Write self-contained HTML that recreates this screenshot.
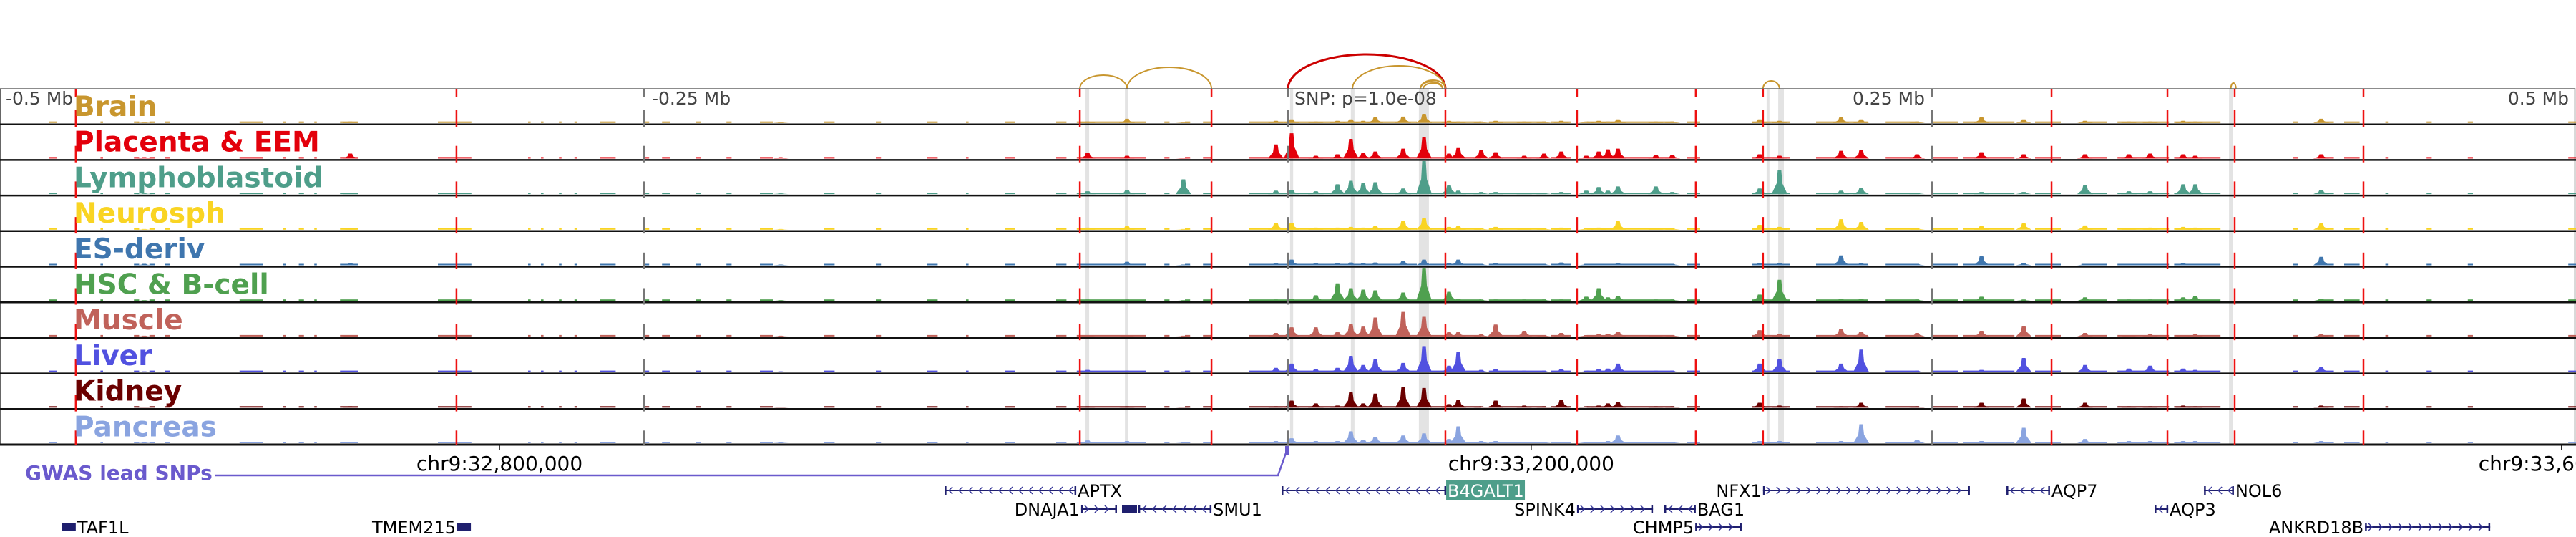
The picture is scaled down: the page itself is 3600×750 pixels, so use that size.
<!DOCTYPE html>
<html><head><meta charset="utf-8"><style>
html,body{margin:0;padding:0;background:#fff;}
svg{display:block;font-family:"DejaVu Sans","Liberation Sans",sans-serif;}
</style></head><body>
<svg id="chart" width="3600" height="750" viewBox="0 0 3600 750" xmlns="http://www.w3.org/2000/svg">
<g id="bands"></g>
<g id="arcs"></g>
<g id="tracks"></g>
<g id="vlines"></g>
<g id="labels"></g>
<g id="axis"></g>
<g id="genes"></g>
</svg>
<script>
// ---- data ----
const trackNames = ["Brain","Placenta & EEM","Lymphoblastoid","Neurosph","ES-deriv","HSC & B-cell","Muscle","Liver","Kidney","Pancreas"];
const trackColors = ["#c8962e","#e3000b","#4e9e8a","#f9d423","#3f76ae","#4fa04f","#c0625a","#5151e0","#6b0000","#8aa4e0"];
// peak positions in kb relative to lead SNP
const peakKb = [-444,-364,-197,-77.8,-62.5,-40.6,-4.7,1.4,10.8,19.2,24.4,29.2,33.9,44.7,52.8,62.5,66.1,75,80.6,91.7,99.4,106.1,115.8,120.6,124.2,128.1,142.8,149.2,183.1,190.8,214.7,222.5,244.2,269.2,285.6,309.4,326.4,334.7,347.5,352.2,401.1];
const brainVals     = [1,2,1,2,6,1,3,5,2,3,5,3,8,9,13,3,2,2,3,2,2,3,2,3,2,5,2,2,5,3,8,5,2,8,5,3,2,2,3,2,6];
const placentaVals  = [2,7,2,8,4,1,20,36,4,6,28,8,10,14,30,7,15,12,9,4,7,10,4,10,13,14,5,5,6,4,11,12,6,9,6,6,6,7,6,4,6];
const lymphVals     = [1,1,1,4,6,21,5,6,4,14,19,16,17,8,47,13,5,3,3,2,2,3,5,10,5,11,11,3,8,34,5,9,2,3,3,13,4,4,14,14,6];
const neuroVals     = [1,1,1,3,5,1,10,10,3,3,4,3,5,13,17,4,5,2,4,2,2,3,2,3,2,12,2,2,7,4,15,11,2,5,9,6,2,3,4,3,9];
const esVals        = [2,3,1,2,5,1,3,8,3,3,4,3,4,6,8,3,8,2,3,2,2,4,2,2,2,3,2,2,3,3,14,3,2,13,3,2,2,2,3,2,12];
const hscVals       = [1,1,1,2,2,1,2,3,8,25,18,16,15,12,47,13,3,2,2,2,2,2,6,18,5,7,2,2,9,30,3,3,2,6,2,5,2,2,5,7,3];
const muscleVals    = [1,2,1,2,2,1,5,13,13,6,18,14,27,35,28,6,6,3,17,8,2,5,2,3,4,7,2,2,9,4,11,7,5,8,15,5,2,3,2,3,3];
const liverVals     = [1,1,1,3,2,1,6,12,4,6,23,10,18,13,37,9,29,3,4,2,2,4,2,4,5,12,2,2,12,19,12,32,2,3,20,10,5,9,5,3,7];
const kidneyVals    = [1,2,1,2,2,1,2,10,6,3,22,6,20,29,28,5,11,2,10,3,2,11,2,3,6,8,2,2,7,3,2,7,2,7,13,7,2,2,3,2,3];
const pancreasVals  = [1,1,1,4,3,1,3,7,3,3,17,5,9,11,14,6,24,3,3,2,2,2,2,2,3,11,2,2,3,3,3,27,5,3,22,6,3,3,3,3,3];
const trackVals = [brainVals,placentaVals,lymphVals,neuroVals,esVals,hscVals,muscleVals,liverVals,kidneyVals,pancreasVals];
// low background signal segments (kb)
const bgStartKb = [-481,-461,-448,-442,-436,-407,-390,-384,-378,-368,-330,-295,-290,-283,-277,-267,-250,-243,-230,-218,-205,-180,-160,-140,-125,-110,-90,-82,-48,-40,-33,-15,55,78,102,116,155,180,205,232,250,262,290,308,322,344,390,400,410,426,442,458,497];
const bgEndKb   = [-478,-460,-446,-440,-434,-398,-389,-382,-377,-361,-317,-294,-289,-282,-276,-261,-248,-240,-228,-216,-200,-176,-158,-136,-124,-106,-86,-55,-46,-38,-30,50,75,100,110,150,160,195,225,245,260,282,300,318,342,362,392,406,416,427,444,460,500];
// dashed marker lines (kb)
const redLineKb = [-470.6,-322.8,-80.8,-29.7,61.1,112.2,158.3,184.4,296.4,341.4,367.5,417.5];
const grayLineKb = [-250,0,250];
const bandStartKb = [-78.6,-63.3,0.8,24.4,50.8,185.8,190.3,365.3];
const bandEndKb   = [-77.2,-62.2,2,25.8,54.7,186.9,192.5,366.7];
// loops
const arcStartKb = [-80.8,-62.5,0,25,51.4,51.4,52.5,184.4,366];
const arcEndKb   = [-62.5,-29.7,61.1,61.1,61.1,60,60,190.8,368];
const arcHeight  = [19,30,48,32,12,10,8,11,8];
const arcKind    = [0,0,1,0,0,0,0,0,0];
// genes
const geneNames  = ["APTX","DNAJA1","SMU1","TAF1L","TMEM215","B4GALT1","SPINK4","BAG1","CHMP5","NFX1","AQP7","AQP3","NOL6","ANKRD18B"];
const geneStartKb= [-133.3,-80.3,-58.1,-476.1,-322.5,-2.5,112.2,146.1,158.1,184.4,278.9,336.4,355.6,418.1];
const geneEndKb  = [-82.2,-66.4,-29.7,-470.6,-317.2,61.4,141.7,158.3,176.1,264.7,295.8,341.7,367.2,466.7];
const geneStrand = [-1,1,-1,0,0,-1,1,-1,1,1,-1,-1,-1,1];
const geneRow    = [0,1,1,2,2,0,1,1,2,0,0,1,0,2];
const geneLabelSide = ["r","l","r","r","l","r","l","r","l","l","r","r","r","l"];
const axisTickKb = [-306.1,94.4,494.4];
const axisTickLabels = ["chr9:32,800,000","chr9:33,200,000","chr9:33,600,000"];
const topTickKb = [-500,-250,250,500];
const topTickLabels = ["-0.5 Mb","-0.25 Mb","0.25 Mb","0.5 Mb"];

// ---- scales ----
const NS="http://www.w3.org/2000/svg";
const X = kb => (kb+500)*3.6;
const TOP=124, TH=49.7, NT=10;
const trackTop = i => TOP + i*TH;
const baseY = i => TOP + (i+1)*TH - 2;
const yVal = v => v*0.98;
function mk(tag, attrs, parent){const e=document.createElementNS(NS,tag);for(const k in attrs)e.setAttribute(k,attrs[k]);parent.appendChild(e);return e;}

const gB=document.getElementById('bands');
for(let i=0;i<bandStartKb.length;i++){
  const r=mk('rect',{x:X(bandStartKb[i]),y:TOP,width:Math.max(2,X(bandEndKb[i])-X(bandStartKb[i])),height:TH*NT,fill:'#e3e3e3'},gB);
  
  
}
const gA=document.getElementById('arcs');
for(let i=0;i<arcStartKb.length;i++){
  const x1=X(arcStartKb[i]), x2=X(arcEndKb[i]), rx=(x2-x1)/2;
  const p=mk('path',{d:`M${x1},${TOP} A${rx},${arcHeight[i]} 0 0 1 ${x2},${TOP}`,fill:'none',stroke:arcKind[i]?'#cc0000':'#c8962e','stroke-width':arcKind[i]?3:2},gA);
  
  
}
const gT=document.getElementById('tracks');
mk('rect',{x:0.5,y:TOP,width:3598,height:TH*NT,fill:'none',stroke:'#666','stroke-width':1.5},gT);
for(let t=0;t<NT;t++){
  const g=mk('g',{},gT);
  
  
  const col=trackColors[t], b=baseY(t);
  for(let j=0;j<bgStartKb.length;j++){
    const r=mk('rect',{x:X(bgStartKb[j]),y:b-2,width:Math.max(2,X(bgEndKb[j])-X(bgStartKb[j])),height:2,fill:col},g);
    
    
  }
  const vals=trackVals[t];
  for(let j=0;j<peakKb.length;j++){
    const x=X(peakKb[j]), h=yVal(vals[j]);
    const pts=[[x-11,b],[x-8,b-h*0.2],[x-4,b-h*0.45],[x-2.5,b-h],[x+2.5,b-h],[x+4,b-h*0.45],[x+8,b-h*0.2],[x+11,b]].map(p=>p.join(',')).join(' ');
    const p=mk('polygon',{points:pts,fill:col},g);
    
    
  }
  if(t<NT-1){
    const l=mk('line',{x1:0,x2:3600,y1:TOP+(t+1)*TH,y2:TOP+(t+1)*TH,stroke:'#111','stroke-width':2.5},g);
    
    
  }
}
mk('line',{x1:0,x2:3600,y1:TOP+NT*TH,y2:TOP+NT*TH,stroke:'#111','stroke-width':3},gT);
const gV=document.getElementById('vlines');
function dashed(x,col,name){
  const g=mk('g',{},gV);
  
  
  mk('line',{x1:x,x2:x,y1:TOP,y2:TOP+12,stroke:col,'stroke-width':2.5},g);
  for(let i=0;i<NT;i++){
    const y0=trackTop(i)+30;
    mk('line',{x1:x,x2:x,y1:y0,y2:Math.min(y0+23,TOP+NT*TH),stroke:col,'stroke-width':2.5},g);
  }
}
redLineKb.forEach(k=>dashed(X(k),'#ee1111','red-marker-line'));
grayLineKb.forEach(k=>dashed(X(k),'#777','distance-gridline'));
topTickKb.forEach((k,i)=>{
  const x=X(k); const anchor=i<2?'start':'end';
  const tx=mk('text',{x:i<2?x+(i==0?8:11):x-10,y:146,'font-size':25,fill:'#444','text-anchor':anchor},gV);
  tx.textContent=topTickLabels[i];
  
  
});
const snp=mk('text',{x:1809,y:146,'font-size':25,fill:'#444'},gV);
snp.textContent='SNP: p=1.0e-08';


const gL=document.getElementById('labels');
for(let t=0;t<NT;t++){
  const tx=mk('text',{x:103,y:trackTop(t)+38,'font-size':39,'font-weight':'bold',fill:trackColors[t]},gL);
  tx.textContent=trackNames[t];
  
  
}
const gX=document.getElementById('axis');
const AY=TOP+NT*TH;
axisTickKb.forEach((k,i)=>{
  const x=X(k);
  mk('line',{x1:x,x2:x,y1:AY,y2:AY+8,stroke:'#111','stroke-width':1.5},gX);
  const tx=mk('text',{x:x,y:AY+36,'font-size':28,fill:'#000','text-anchor':'middle'},gX);
  tx.textContent=axisTickLabels[i];
  
  
});
const gw=mk('text',{x:35,y:670,'font-size':28,'font-weight':'bold',fill:'#6a5acd'},gX);
gw.textContent='GWAS lead SNPs';


const sx=X(0);
const gl=mk('path',{d:`M301,664 L${sx-14},664 L${sx-2},630`,fill:'none',stroke:'#6a5acd','stroke-width':2.5},gX);


const sm=mk('rect',{x:sx-4,y:623,width:6,height:13,fill:'#6a5acd'},gX);


const gG=document.getElementById('genes');
const rowY=[685,711,736];
for(let i=0;i<geneNames.length;i++){
  const g=mk('g',{},gG);
  
  
  const x1=X(geneStartKb[i]), x2=X(geneEndKb[i]), y=rowY[geneRow[i]];
  const col='#1f1f6e';
  if(geneStrand[i]===0){
    mk('rect',{x:x1,y:y-6,width:x2-x1,height:12,fill:col},g);
  } else {
    mk('line',{x1:x1,x2:x2,y1:y,y2:y,stroke:col,'stroke-width':2},g);
    mk('rect',{x:x1,y:y-6,width:2.5,height:12,fill:col},g);
    mk('rect',{x:x2-2.5,y:y-6,width:2.5,height:12,fill:col},g);
    let d='';
    for(let x=x1+8;x<x2-4;x+=14){
      d+= geneStrand[i]>0 ? `M${x-3},${y-5} L${x+2},${y} L${x-3},${y+5} ` : `M${x+3},${y-5} L${x-2},${y} L${x+3},${y+5} `;
    }
    mk('path',{d:d,fill:'none',stroke:'#3a3a9a','stroke-width':1.5},g);
  }
  const right=geneLabelSide[i]==='r';
  if(geneNames[i]==='B4GALT1'){
    mk('rect',{x:x2,y:y-14,width:110,height:28,fill:'#4e9e8a'},g);
  }
  const tx=mk('text',{x:right?x2+2:x1-2,y:y+9,'font-size':24,fill:geneNames[i]==='B4GALT1'?'#fff':'#000','text-anchor':right?'start':'end'},g);
  tx.textContent=geneNames[i];
}
const blk=mk('rect',{x:1568,y:705,width:21,height:12,fill:'#1f1f6e'},gG);


</script>
</body></html>
